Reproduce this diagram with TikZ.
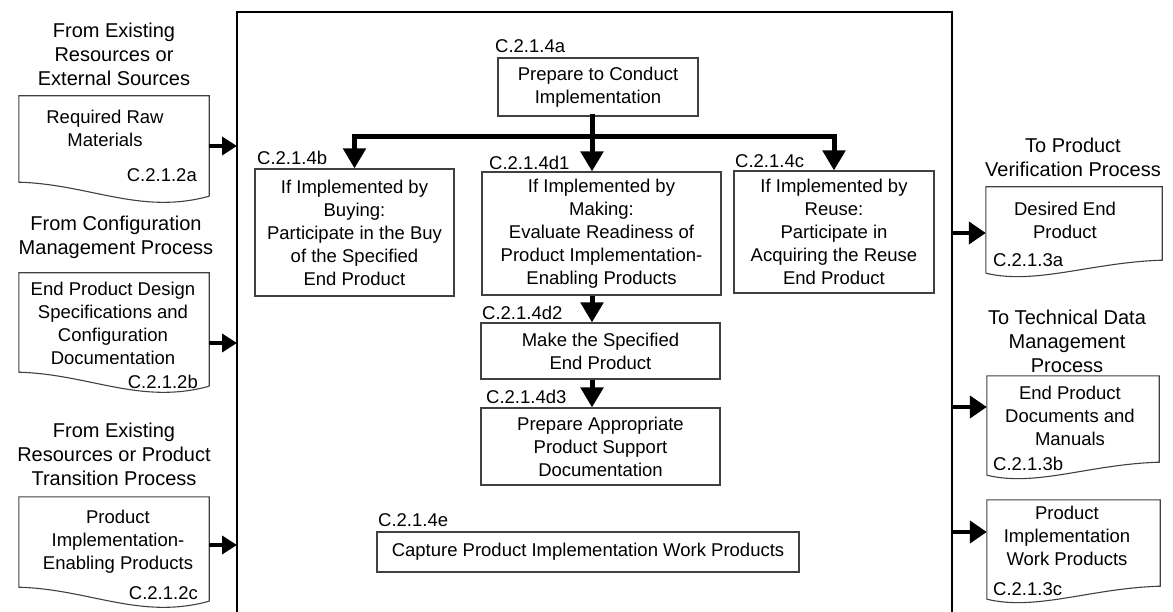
\documentclass[tikz,border=0pt]{standalone}
\usepackage{fontspec}
\setmainfont{Liberation Sans}
\usetikzlibrary{arrows.meta}
\newcommand\docl[1]{\draw[docline] ([yshift=-14pt]#1.south east) -- (#1.north east) -- (#1.north west) -- (#1.south west) .. controls +(71,2) and +(-69,19) .. ([yshift=-14pt]#1.south east);}
\newcommand\docr[1]{\draw[docline] ([yshift=-13pt]#1.south west) -- (#1.north west) -- (#1.north east) -- (#1.south east) .. controls +(-70,2) and +(50,12) .. ([yshift=-13pt]#1.south west);}

\begin{document}
\begin{tikzpicture}[x=1pt, y=-1pt, font=\fontsize{18.5}{23}\selectfont,
  box/.style={draw=black!75, line width=1.1pt, inner sep=0pt, align=center},
  docline/.style={draw=black!75, line width=1.1pt},
  sheet/.style={inner sep=0pt, minimum width=190pt},
  head/.style={font=\fontsize{20}{24}\selectfont, align=center},
  tag/.style={inner sep=0pt},
  feed/.style={line width=4pt, -{Triangle[length=15pt,width=18pt]}},
  yield/.style={line width=4.5pt, -{Triangle[length=17pt,width=22pt]}},
  bar/.style={line width=5pt, line cap=rect},
  drop/.style={line width=5pt, -{Triangle[length=20pt,width=22pt]}}]
\useasboundingbox (0,0) rectangle (1173,612);
\draw[line width=2.4pt] (237,640) -- (237,12) -- (952,12) -- (952,640);

% inputs
\node[head](h1) at (114,54){From Existing\\Resources or\\External Sources};
\node[sheet, minimum height=86pt](ia) at (114,139){};
\docl{ia}
\node[align=center](ia-t) at (105,128.5){Required Raw\\Materials};
\node[tag, anchor=east](ia-c) at (197,175){C.2.1.2a};

\node[head](h2) at (116,237.5){From Configuration\\Management Process};
\node[sheet, minimum height=99pt](ib) at (114,322.5){};
\docl{ib}
\node[align=center](ib-t) at (113,323.5){End Product Design\\Specifications and\\Configuration\\Documentation};
\node[tag, anchor=east](ib-c) at (198,382){C.2.1.2b};

\node[head](h3) at (114,454){From Existing\\Resources or Product\\Transition Process};
\node[sheet, minimum height=90pt](ic) at (114,542){};
\docl{ic}
\node[align=center](ic-t) at (118,541.5){Product\\Implementation-\\Enabling Products};
\node[tag, anchor=east](ic-c) at (198,593){C.2.1.2c};

\coordinate (fa) at (237,146);
\coordinate (fb) at (237,343);
\coordinate (fc) at (237,545);
\draw[feed] (fa -| ia.east) -- (fa);
\draw[feed] (fb -| ib.east) -- (fb);
\draw[feed] (fc -| ic.east) -- (fc);

% activities
\node[box, minimum width=200pt, minimum height=58pt](a) at (598,87){Prepare to Conduct\\Implementation};
\node[tag, anchor=west](a-c) at (495,46){C.2.1.4a};
\node[box, minimum width=199pt, minimum height=127pt](b) at (354.5,232.5){If Implemented by\\Buying:\\Participate in the Buy\\of the Specified\\End Product};
\node[tag, anchor=west](b-c) at (257,158){C.2.1.4b};
\node[box, minimum width=239pt, minimum height=123pt](d1) at (601.5,233.5){If Implemented by\\Making:\\Evaluate Readiness of\\Product Implementation-\\Enabling Products};
\node[tag, anchor=west](d1-c) at (489,163){C.2.1.4d1};
\node[box, minimum width=200pt, minimum height=122pt](c) at (834,232){If Implemented by\\Reuse:\\Participate in\\Acquiring the Reuse\\End Product};
\node[tag, anchor=west](c-c) at (735,161){C.2.1.4c};
\node[box, minimum width=239pt, minimum height=56pt](d2) at (600.5,351){Make the Specified\\End Product};
\node[tag, anchor=west](d2-c) at (482,313){C.2.1.4d2};
\node[box, minimum width=239pt, minimum height=77pt](d3) at (600.5,446.5){Prepare Appropriate\\Product Support\\Documentation};
\node[tag, anchor=west](d3-c) at (486,397){C.2.1.4d3};
\node[box, minimum width=422pt, minimum height=40pt](e) at (588,552){Capture Product Implementation Work Products};
\node[tag, anchor=west](e-c) at (378,520){C.2.1.4e};

\coordinate (split) at (592,137);
\draw[bar] (a.south -| split) -- (split);
\draw[bar] (b.north |- split) -- (c.north |- split);
\draw[drop] (b.north |- split) -- (b.north);
\draw[drop] (split) -- (d1.north -| split);
\draw[drop] (c.north |- split) -- (c.north);
\draw[drop] (d1.south -| split) -- (d2.north -| split);
\draw[drop] (d2.south -| split) -- (d3.north -| split);

% outputs
\node[head](h4) at (1073,157.5){To Product\\Verification Process};
\node[sheet, minimum width=176pt, minimum height=73pt](oa) at (1074,223.5){};
\docr{oa}
\node[align=center](oa-t) at (1065,220.5){Desired End\\Product};
\node[tag, anchor=west](oa-c) at (993,260){C.2.1.3a};

\node[head](h5) at (1067,341){To Technical Data\\Management\\Process};
\node[sheet, minimum width=172pt, minimum height=86pt](ob) at (1073,419){};
\docr{ob}
\node[align=center](ob-t) at (1070,416){End Product\\Documents and\\Manuals};
\node[tag, anchor=west](ob-c) at (993,464){C.2.1.3b};

\node[sheet, minimum width=173pt, minimum height=86pt](oc) at (1073.5,543){};
\docr{oc}
\node[align=center](oc-t) at (1067,536){Product\\Implementation\\Work Products};
\node[tag, anchor=west](oc-c) at (993,589){C.2.1.3c};

\coordinate (ya) at (952,233);
\coordinate (yb) at (952,407);
\coordinate (yc) at (952,532);
\draw[yield] (ya) -- (ya -| oa.west);
\draw[yield] (yb) -- (yb -| ob.west);
\draw[yield] (yc) -- (yc -| oc.west);
\end{tikzpicture}
\end{document}
